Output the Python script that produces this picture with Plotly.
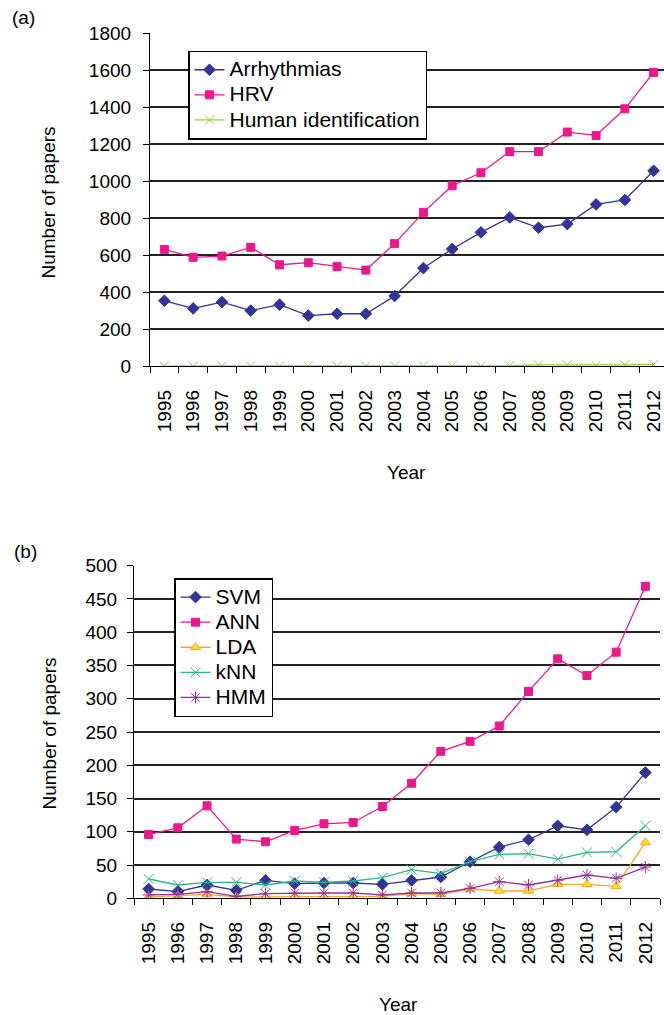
import plotly.graph_objects as go

years = [str(y) for y in range(1995, 2013)]

# Panel (a)
arrhythmias = [354, 313, 347, 301, 333, 274, 284, 284, 380, 531, 634, 724, 805, 749, 769, 875, 899, 1057]
hrv = [632, 589, 596, 643, 549, 560, 540, 520, 663, 832, 976, 1046, 1160, 1160, 1266, 1248, 1392, 1589]
human_id = [1, 1, 1, 1, 1, 1, 1, 1, 2, 2, 2, 2, 3, 8, 8, 5, 8, 10]

# Panel (b)
svm = [14, 10, 20, 12, 27, 22, 23, 23, 21, 27, 32, 55, 77, 88, 109, 103, 137, 189]
ann = [96, 106, 139, 89, 85, 102, 112, 114, 138, 173, 221, 236, 259, 311, 360, 335, 370, 469]
lda = [2, 4, 6, 2, 2, 3, 2, 3, 3, 7, 6, 14, 11, 11, 21, 21, 18, 84]
knn = [29, 20, 24, 24, 20, 26, 24, 26, 31, 43, 37, 55, 66, 67, 59, 69, 70, 109]
hmm = [5, 6, 10, 3, 7, 8, 8, 8, 5, 8, 8, 15, 25, 20, 27, 35, 30, 47]

yticks_a = [0, 200, 400, 600, 800, 1000, 1200, 1400, 1600, 1800]
yticks_b = [0, 50, 100, 150, 200, 250, 300, 350, 400, 450, 500]

W, H = 664, 1015
FONT = "Liberation Sans, Arial, Helvetica, sans-serif"
NAVY = "#333399"
PINK = "#EC178C"
YG = "#99CC33"
ORANGE = "#F7A535"
TEAL = "#2BB58C"
PURPLE = "#993399"

def px(x):
    return x / W

def py(y):
    return (H - y) / H

def big(name):
    return '<span style="font-size:21px">' + name + '</span>'

fig = go.Figure()

def add(x, y, name, color, symbol, size, xa, ya, legend, mline=None, mfill=None):
    marker = dict(symbol=symbol, size=size, color=mfill or color,
                  line=dict(color=mline or color, width=1))
    fig.add_trace(go.Scatter(x=x, y=y, name=big(name), mode="lines+markers",
                             line=dict(color=color, width=1.3),
                             marker=marker, xaxis=xa, yaxis=ya, legend=legend,
                             hovertext=[name] * len(x)))

add(years, arrhythmias, "Arrhythmias", NAVY, "diamond", 9, "x", "y", "legend")
add(years, hrv, "HRV", PINK, "square", 8, "x", "y", "legend")
add(years, human_id, "Human identification", YG, "x-thin-open", 9, "x", "y", "legend", mline="#A8CC55")

add(years, svm, "SVM", NAVY, "diamond", 9, "x2", "y2", "legend2")
add(years, ann, "ANN", PINK, "square", 8, "x2", "y2", "legend2")
add(years, lda, "LDA", ORANGE, "triangle-up", 9, "x2", "y2", "legend2", mline=ORANGE, mfill="#FFE21A")
add(years, knn, "kNN", TEAL, "x-thin-open", 10, "x2", "y2", "legend2")
add(years, hmm, "HMM", PURPLE, "asterisk-open", 10, "x2", "y2", "legend2")

tickfont = dict(family=FONT, size=19, color="black")

xcommon = dict(type="category", showline=True, linecolor="black", linewidth=1.2,
               ticks="outside", tickson="boundaries", ticklen=6, tickcolor="black",
               tickangle=-90, tickfont=tickfont, showgrid=False, zeroline=False,
               ticklabelstandoff=15, automargin=False)
ycommon = dict(showline=True, linecolor="black", linewidth=1.2, ticks="outside",
               ticklen=6, tickcolor="black", tickfont=tickfont, showgrid=True,
               gridcolor="#222222", gridwidth=1.5, zeroline=False, automargin=False)

legfont = dict(family=FONT, size=17, color="black")

fig.update_layout(
    width=W, height=H, margin=dict(l=0, r=0, t=0, b=0, autoexpand=False),
    paper_bgcolor="white", plot_bgcolor="white",
    font=dict(family=FONT, color="black"),
    xaxis=dict(domain=[px(150), 1.0], range=[-0.5, 17.36], anchor="y", **xcommon),
    yaxis=dict(domain=[py(366.3), py(33.3)], range=[0, 1800], tickvals=yticks_a,
               anchor="x", ticklabelstandoff=8, **ycommon),
    xaxis2=dict(domain=[px(134), px(660)], range=[-0.5, 17.5], anchor="y2", **xcommon),
    yaxis2=dict(domain=[py(898.3), py(565.7)], range=[0, 500], tickvals=yticks_b,
                anchor="x2", ticklabelstandoff=6, **ycommon),
    legend=dict(x=px(188), y=py(50.7), xanchor="left", yanchor="top",
                bgcolor="white", bordercolor="black", borderwidth=1.5,
                font=legfont, tracegroupgap=0),
    legend2=dict(x=px(174), y=py(578), xanchor="left", yanchor="top",
                 bgcolor="white", bordercolor="black", borderwidth=1.5,
                 font=legfont, tracegroupgap=0),
    showlegend=True,
)

ann_font = dict(family=FONT, size=19, color="black")
annos = [
    dict(text="(a)", x=px(23), y=py(17)),
    dict(text="(b)", x=px(25), y=py(551)),
    dict(text="Year", x=px(406), y=py(472)),
    dict(text="Year", x=px(398), y=py(1004)),
    dict(text="Number of papers", x=px(48.5), y=py(203), textangle=-90),
    dict(text="Number of papers", x=px(48.5), y=py(734), textangle=-90),
]
for a in annos:
    fig.add_annotation(xref="paper", yref="paper", showarrow=False,
                       xanchor="center", yanchor="middle", font=ann_font, **a)

fig.write_html("out.html", config={"displayModeBar": False},
               post_script="document.body.style.margin='0';document.body.style.overflow='hidden';")
